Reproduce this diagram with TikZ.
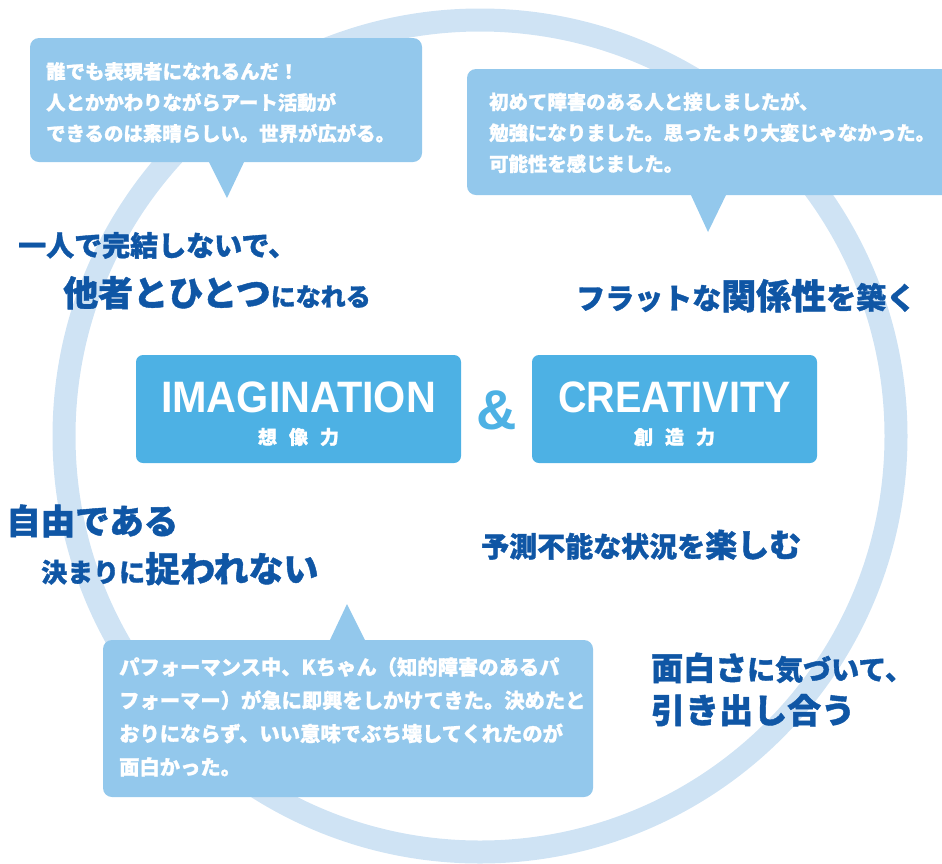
\documentclass[tikz,border=0pt]{standalone}
\usepackage{fontspec}
\usepackage{graphicx}
\setmainfont{Liberation Sans}
\newfontfamily\cjk{Noto Sans CJK JP}[BoldFeatures={FakeBold=1.2}]
\usetikzlibrary{positioning}
\definecolor{ringblue}{HTML}{CFE3F4}
\definecolor{bubbleblue}{HTML}{93C8EC}
\definecolor{boxblue}{HTML}{4DB1E4}
\definecolor{inkblue}{HTML}{0F56A5}
\newcommand{\fsz}[1]{\fontsize{#1}{#1}\selectfont}

\begin{document}
\begin{tikzpicture}[x=1pt,y=-1pt,
	bubble/.style={fill=bubbleblue, rounded corners=9pt},
	say/.style={anchor=north west, inner sep=0pt, align=left, text=white, font=\cjk\bfseries\fontsize{19.4}{31}\selectfont},
	key/.style={anchor=base west, inner sep=0pt, text=inkblue, font=\cjk\bfseries},
	keybox/.style={fill=boxblue, rounded corners=7pt, minimum width=325pt, minimum height=108pt, inner sep=0pt},
	title/.style={inner sep=0pt, text=white, font=\bfseries\fsz{44}},
	subt/.style={inner sep=0pt, text=white, font=\cjk\bfseries\fsz{19}}]
		\useasboundingbox (0,0) rectangle (942,863);
		\clip (0,0) rectangle (942,863);
		\draw[ringblue, line width=23pt] (480,436) circle[radius=416pt];
		
		% speech bubbles
		\fill[bubble] (30,38) rectangle (422,162);
		\fill[bubbleblue] (208,160) -- (227,198) -- (245,160) -- cycle;
		\fill[bubble] (467,69) rectangle (955,195);
		\fill[bubbleblue] (690,193) -- (708,232) -- (727,193) -- cycle;
		\fill[bubble] (103,640) rectangle (593,797);
		\fill[bubbleblue] (329,642) -- (347,604) -- (366,642) -- cycle;
		\node[say] (say1) at (46,62) {誰でも表現者になれるんだ！\\人とかかわりながらアート活動が\\できるのは素晴らしい。世界が広がる。};
		\node[say] (say2) at (489,92) {初めて障害のある人と接しましたが、\\勉強になりました。思ったより大変じゃなかった。\\可能性を感じました。};
		\node[say, font=\cjk\bfseries\fontsize{20.3}{33.3}\selectfont] (say3) at (119,657) {パフォーマンス中、Kちゃん（知的障害のあるパ\\フォーマー）が急に即興をしかけてきた。決めたと\\おりにならず、いい意味でぶち壊してくれたのが\\面白かった。};
		
		% the two keys
		\node[keybox] (imag) at (298.5,409) {};
		\node[keybox, minimum width=285pt] (creat) at (674.5,409) {};
		\node[title] (imagt) at (298.5,397) {\scalebox{0.94}[1]{IMAGINATION}};
		\node[subt] (imags) at (298.5,437) {想\hspace{12pt}像\hspace{12pt}力};
		\node[title] (creatt) at (674.5,397) {\scalebox{0.9}[1]{CREATIVITY}};
		\node[subt] (creats) at (674.5,437) {創\hspace{12pt}造\hspace{12pt}力};
		\node[title, text=boxblue, font=\bfseries\fsz{56}] (amp) at (497,410) {\&};
		
		% phrases round the ring
		\node[key] (k1) at (18,256) {\fsz{28}一人で完結しないで、};
		\node[key] (k2) at (63,306) {\fsz{35}他者とひとつ\fsz{25}になれる};
		\node[key] (k3) at (576,309) {\fsz{29}フラットな\fsz{35}関係性\fsz{30}を築く};
		\node[key] (k4) at (6,534) {\fsz{34.5}自由である};
		\node[key] (k5) at (41,582) {\fsz{26}決まりに\fsz{35}捉われない};
		\node[key] (k6) at (481,557) {\fsz{28}予測不能な状況を\fsz{32}楽しむ};
		\node[key] (k7) at (651,680) {\fsz{32}面白さ\fsz{28}に気づいて、};
		\node[key] (k8) at (651,723) {\fsz{34}引き出し合う};
\end{tikzpicture}
\end{document}
